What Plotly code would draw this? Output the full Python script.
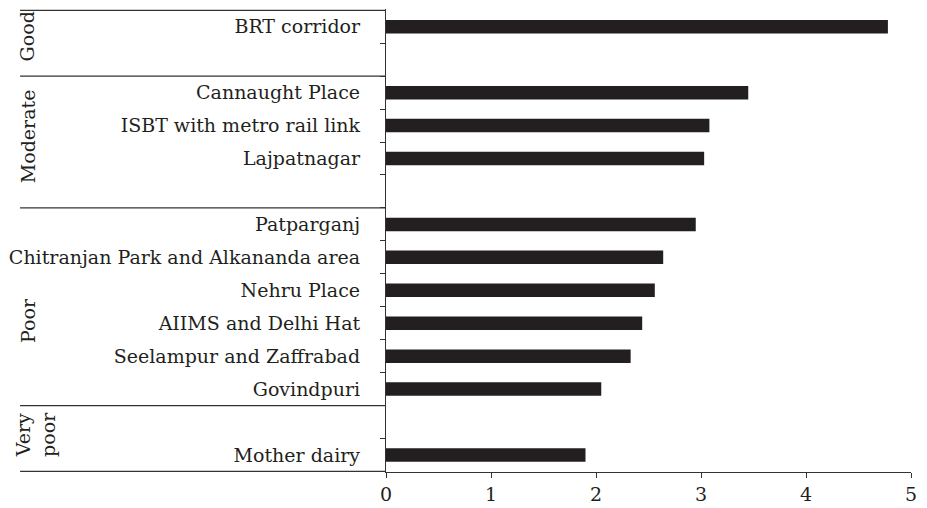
import plotly.graph_objects as go

# Data
categories = ["BRT corridor", " ", "Cannaught Place", "ISBT with metro rail link", "Lajpatnagar", "  ",
              "Patparganj", "Chitranjan Park and Alkananda area", "Nehru Place", "AIIMS and Delhi Hat",
              "Seelampur and Zaffrabad", "Govindpuri", "   ", "Mother dairy"]
values = [4.78, None, 3.45, 3.08, 3.03, None,
          2.95, 2.64, 2.56, 2.44, 2.33, 2.05, None, 1.90]
groups = ["Good", "Moderate", "Poor", "Very<br>poor"]
group_label_pos = [0.28, 3.31, 8.92, 12.38]
group_label_x = [-0.683, -0.683, -0.683, -0.667]
separators = [-0.5, 1.5, 5.5, 11.5, 13.5]
x_ticks = [0, 1, 2, 3, 4, 5]

FONT = "DejaVu Serif"
ink = "#231f20"

fig = go.Figure()
fig.add_trace(go.Bar(
    x=values, y=categories, orientation="h",
    marker=dict(color=ink, line=dict(width=0)),
    width=0.41,
))

shapes = []
for s in separators:
    shapes.append(dict(type="line", xref="paper", yref="y", x0=-0.697, x1=0, y0=s, y1=s,
                       line=dict(color="#333333", width=1.2)))

annotations = []
for g, p, gx in zip(groups, group_label_pos, group_label_x):
    annotations.append(dict(text=g, xref="paper", yref="y", x=gx, y=p, textangle=-90,
                            showarrow=False, xanchor="center", yanchor="middle",
                            font=dict(family=FONT, size=19, color=ink), align="center"))

fig.update_layout(
    width=919, height=500,
    margin=dict(l=373, r=16, t=1, b=36),
    paper_bgcolor="white", plot_bgcolor="white",
    showlegend=False,
    bargap=0.59,
    shapes=shapes,
    annotations=annotations,
    font=dict(family=FONT, size=19, color=ink),
    xaxis=dict(range=[0, 5], tickvals=x_ticks, showgrid=False, zeroline=False,
               showline=True, linecolor="#333333", linewidth=1.2,
               ticks="outside", ticklen=5, tickcolor="#333333",
               tickfont=dict(family=FONT, size=19, color=ink)),
    yaxis=dict(type="category", categoryorder="array", categoryarray=categories,
               autorange="reversed", showgrid=False, zeroline=False,
               showline=True, linecolor="#333333", linewidth=1.2,
               ticks="outside", ticklen=5, tickcolor="#333333", tickson="boundaries",
               ticklabelstandoff=21,
               tickfont=dict(family=FONT, size=19, color=ink)),
)

fig.write_html("out.html")
